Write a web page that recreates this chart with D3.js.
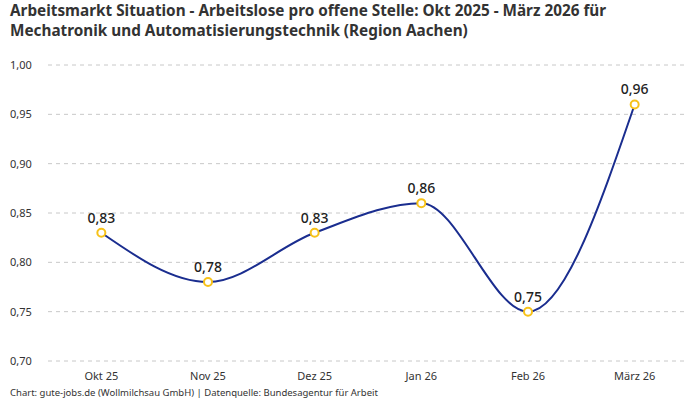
<!DOCTYPE html>
<html>
<head>
<meta charset="utf-8">
<script src="https://cdn.jsdelivr.net/npm/d3@7"></script>
<style>
  html, body { margin: 0; padding: 0; background: #fff; }
  svg { display: block; font-family: "Noto Sans", "Open Sans", sans-serif; }
</style>
</head>
<body>
<div id="chart"></div>
<script>
  /* Data */
  var months = ["Okt 25", "Nov 25", "Dez 25", "Jan 26", "Feb 26", "März 26"];
  var values = [0.83, 0.78, 0.83, 0.86, 0.75, 0.96];
  var yTicks = [0.70, 0.75, 0.80, 0.85, 0.90, 0.95, 1.00];

  var W = 700, H = 400;
  var ml = 48, mr = 12, mt = 65, mb = 39;

  var fmt = function (v) { return v.toFixed(2).replace(".", ","); };

  var svg = d3.select("#chart").append("svg")
    .attr("width", W).attr("height", H);

  /* Title */
  var title = svg.append("text")
    .attr("x", 10).attr("y", 16)
    .attr("fill", "#333").attr("font-size", 15.3).attr("font-weight", "bold");
  title.append("tspan").attr("x", 10).attr("dy", 0)
    .text("Arbeitsmarkt Situation - Arbeitslose pro offene Stelle: Okt 2025 - März 2026 für");
  title.append("tspan").attr("x", 10).attr("dy", 20)
    .text("Mechatronik und Automatisierungstechnik (Region Aachen)");

  var x = d3.scalePoint().domain(months).range([ml, W - mr]).padding(0.5);
  var y = d3.scaleLinear().domain([0.70, 1.00]).range([H - mb, mt]);

  /* Grid + y labels */
  var grid = svg.append("g");
  yTicks.forEach(function (t) {
    grid.append("line")
      .attr("x1", ml).attr("x2", W - mr)
      .attr("y1", y(t)).attr("y2", y(t))
      .attr("stroke", "#c8c8c8").attr("stroke-width", 1)
      .attr("stroke-dasharray", "4,4");
    grid.append("text")
      .attr("x", 10).attr("y", y(t) + 4)
      .attr("fill", "#333").attr("font-size", 11)
      .text(fmt(t));
  });

  /* x labels */
  months.forEach(function (m) {
    svg.append("text")
      .attr("x", x(m)).attr("y", H - mb + 19)
      .attr("text-anchor", "middle")
      .attr("fill", "#333").attr("font-size", 11)
      .text(m);
  });

  /* Line */
  var line = d3.line()
    .x(function (d, i) { return x(months[i]); })
    .y(function (d) { return y(d); })
    .curve(d3.curveMonotoneX);

  svg.append("path")
    .datum(values)
    .attr("d", line)
    .attr("fill", "none")
    .attr("stroke", "#1a2d8f")
    .attr("stroke-width", 2);

  /* Points + value labels */
  values.forEach(function (v, i) {
    svg.append("circle")
      .attr("cx", x(months[i])).attr("cy", y(v))
      .attr("r", 4)
      .attr("fill", "#fff")
      .attr("stroke", "#f7c21a").attr("stroke-width", 2);
    svg.append("text")
      .attr("x", x(months[i])).attr("y", y(v) - 10)
      .attr("text-anchor", "middle")
      .attr("fill", "#222").attr("font-size", 14).attr("font-weight", 500)
      .text(fmt(v));
  });

  /* Footer */
  svg.append("text")
    .attr("x", 10).attr("y", 396)
    .attr("fill", "#333").attr("font-size", 9.5)
    .text("Chart: gute-jobs.de (Wollmilchsau GmbH) | Datenquelle: Bundesagentur für Arbeit");
</script>
</body>
</html>
